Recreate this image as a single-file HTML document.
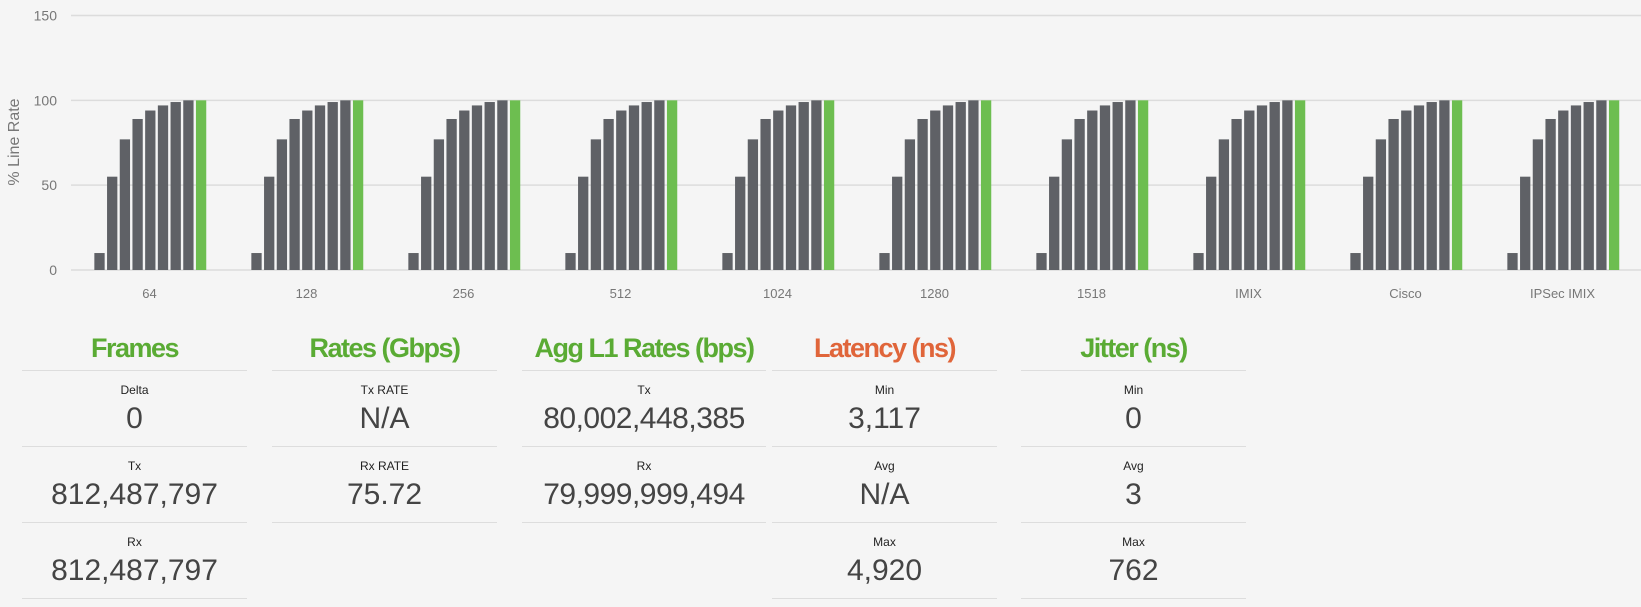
<!DOCTYPE html>
<html><head><meta charset="utf-8"><style>
body{margin:0;width:1641px;height:607px;background:#f5f5f5;font-family:"Liberation Sans",sans-serif;overflow:hidden;position:relative}
svg{position:absolute;left:0;top:0}
.panel{position:absolute;width:225px;text-align:center;color:#444}
.panel h2{margin:0;height:60px;line-height:76px;font-size:27px;font-weight:bold;letter-spacing:-1.5px;color:#5aab34;border-bottom:1px solid #ddd}
.row{height:75px;border-bottom:1px solid #ddd;position:relative}
.row .l{position:absolute;top:12px;left:0;right:0;font-size:12px;color:#222}
.row .v{position:absolute;top:31px;left:0;right:0;font-size:30px;color:#444}
</style></head><body>
<svg id="chart" width="1641" height="310"></svg>
<div class="panel" style="left:22px;top:310px"><h2>Frames</h2>
<div class="row"><div class="l">Delta</div><div class="v">0</div></div>
<div class="row"><div class="l">Tx</div><div class="v">812,487,797</div></div>
<div class="row"><div class="l">Rx</div><div class="v">812,487,797</div></div></div>
<div class="panel" style="left:272px;top:310px"><h2>Rates (Gbps)</h2>
<div class="row"><div class="l">Tx RATE</div><div class="v">N/A</div></div>
<div class="row"><div class="l">Rx RATE</div><div class="v">75.72</div></div></div>
<div class="panel" style="left:522px;top:310px;width:244px"><h2>Agg L1 Rates (bps)</h2>
<div class="row"><div class="l">Tx</div><div class="v" style="letter-spacing:-0.5px">80,002,448,385</div></div>
<div class="row"><div class="l">Rx</div><div class="v" style="letter-spacing:-0.5px">79,999,999,494</div></div></div>
<div class="panel" style="left:772px;top:310px"><h2 style="color:#e0653a">Latency (ns)</h2>
<div class="row"><div class="l">Min</div><div class="v">3,117</div></div>
<div class="row"><div class="l">Avg</div><div class="v">N/A</div></div>
<div class="row"><div class="l">Max</div><div class="v">4,920</div></div></div>
<div class="panel" style="left:1021px;top:310px"><h2>Jitter (ns)</h2>
<div class="row"><div class="l">Min</div><div class="v">0</div></div>
<div class="row"><div class="l">Avg</div><div class="v">3</div></div>
<div class="row"><div class="l">Max</div><div class="v">762</div></div></div>
<script>
const categories=["64","128","256","512","1024","1280","1518","IMIX","Cisco","IPSec IMIX"];
const seriesValues=[10,55,77,89,94,97,99,100];
const greenValue=100;
const yTicks=[0,50,100,150];
const NS="http://www.w3.org/2000/svg";
const svg=document.getElementById('chart');
const x0=71,x1=1641,y0=270,yTop=15.5;
const y=v=>y0-(v/150)*(y0-yTop);
const band=(x1-x0)/categories.length;
function mk(t,a){const e=document.createElementNS(NS,t);for(const k in a)e.setAttribute(k,a[k]);svg.appendChild(e);return e;}
yTicks.forEach(t=>{
 const l=mk('line',{x1:x0,x2:x1,y1:y(t),y2:y(t),stroke:'#dcdcdc','stroke-width':1.5});
 
 
 const tx=mk('text',{x:57,y:y(t)+5,'text-anchor':'end','font-size':14,fill:'#777'});tx.textContent=t;
 
 
});
const at=mk('text',{transform:'translate(19,142) rotate(-90)','text-anchor':'middle','font-size':16,fill:'#777'});at.textContent='% Line Rate';


const pitch=12.7,bw=10.3;
categories.forEach((c,i)=>{
 const cx=x0+band*(i+0.5);
 const all=seriesValues.concat([greenValue]);
 const start=cx-(all.length*pitch)/2+2;
 all.forEach((v,j)=>{
  const r=mk('rect',{x:start+j*pitch,y:y(v),width:bw,height:y0-y(v),fill:j===all.length-1?'#6dbe50':'#5f6166'});
  
  
 });
 const t=mk('text',{x:cx,y:298,'text-anchor':'middle','font-size':13,fill:'#777'});t.textContent=c;
 
 
});
</script>
</body></html>
